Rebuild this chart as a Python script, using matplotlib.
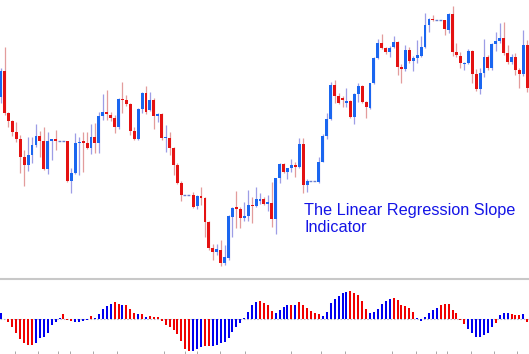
import matplotlib
matplotlib.use("Agg")
import matplotlib.pyplot as plt
import numpy as np

# ---------------- data ----------------
opens = [203.3, 229.3, 186.7, 179.0, 168.3, 160.7, 143.0, 135.0, 144.7, 155.0,
         164.0, 159.0, 131.3, 159.0, 161.0, 159.0, 159.0, 159.0, 119.3, 127.3,
         156.7, 159.0, 157.3, 151.7, 162.7, 157.3, 184.0, 188.3, 185.0, 181.7,
         173.3, 201.0, 200.0, 196.0, 169.3, 160.7, 190.7, 206.7, 190.0, 200.0,
         184.0, 186.0, 161.7, 161.7, 151.7, 135.0, 117.3, 104.7, 104.7, 104.7,
         94.0, 104.0, 102.3, 78.3, 51.7, 48.3, 50.0, 37.3, 41.7, 82.7,
         92.7, 91.0, 81.7, 84.3, 95.0, 94.0, 99.3, 101.0, 96.0, 97.3,
         80.7, 121.7, 135.7, 128.3, 131.7, 135.0, 132.7, 156.0, 115.0, 118.7,
         118.7, 118.3, 138.3, 164.0, 181.3, 215.0, 204.0, 202.0, 196.7, 199.3,
         183.3, 206.0, 214.0, 198.3, 191.7, 216.7, 241.7, 256.7, 252.3, 247.7,
         252.7, 258.0, 232.7, 231.0, 250.0, 239.0, 241.7, 244.0, 253.3, 275.0,
         281.3, 280.0, 280.0, 280.0, 270.0, 286.0, 247.7, 244.0, 236.0, 236.7,
         249.3, 226.0, 210.7, 227.3, 242.7, 231.7, 256.0, 259.3, 261.7, 246.7,
         238.3, 243.3, 230.0, 226.0, 255.0]
highs = [232.0, 253.3, 188.0, 180.0, 178.3, 165.0, 150.0, 162.7, 162.7, 176.0,
         169.3, 173.3, 168.3, 161.0, 170.0, 159.0, 159.0, 159.0, 132.0, 166.7,
         163.3, 168.3, 168.3, 176.0, 176.7, 188.3, 206.0, 210.0, 188.0, 185.0,
         201.7, 218.3, 205.0, 197.0, 173.3, 191.7, 208.3, 214.0, 208.3, 202.0,
         187.0, 187.3, 175.0, 168.3, 153.3, 136.7, 119.0, 104.7, 104.7, 108.3,
         105.0, 112.7, 103.5, 79.5, 56.0, 56.0, 60.0, 55.0, 85.0, 93.0,
         109.0, 93.0, 98.3, 110.0, 103.3, 113.3, 107.3, 103.3, 105.0, 118.3,
         122.5, 136.7, 136.7, 132.5, 140.7, 138.3, 161.7, 161.7, 120.7, 118.7,
         118.7, 142.7, 166.0, 187.3, 218.3, 220.0, 206.7, 204.0, 211.7, 200.0,
         207.0, 216.7, 215.0, 199.0, 217.5, 243.0, 260.7, 266.0, 253.0, 254.0,
         264.0, 259.0, 236.0, 255.0, 253.3, 244.0, 260.0, 264.0, 286.7, 282.0,
         285.0, 280.0, 280.0, 280.5, 287.3, 294.0, 256.7, 248.3, 238.3, 250.7,
         250.0, 230.7, 231.7, 260.7, 245.0, 257.3, 268.3, 277.3, 278.3, 255.0,
         246.0, 246.7, 231.7, 270.0, 260.0]
lows = [197.3, 185.0, 173.0, 164.0, 158.3, 126.7, 114.0, 129.3, 137.3, 153.3,
        143.3, 130.0, 126.0, 140.0, 150.0, 159.0, 159.0, 118.0, 106.7, 126.5,
        125.0, 128.3, 151.0, 146.0, 147.3, 147.3, 180.0, 180.0, 179.3, 167.3,
        170.7, 186.7, 194.0, 165.0, 160.0, 160.0, 187.3, 186.0, 189.0, 170.7,
        178.3, 160.0, 148.3, 145.0, 125.0, 116.5, 99.0, 104.7, 104.7, 92.0,
        91.0, 95.0, 63.3, 50.0, 40.0, 45.0, 34.0, 35.0, 40.0, 62.7,
        72.0, 72.0, 79.3, 79.3, 77.3, 93.5, 96.0, 95.0, 89.3, 73.3,
        66.0, 117.3, 127.0, 120.7, 128.3, 123.3, 132.0, 106.7, 108.3, 118.7,
        118.7, 117.3, 138.0, 160.7, 180.0, 197.3, 196.0, 193.3, 192.7, 182.5,
        176.0, 198.3, 197.5, 181.7, 191.0, 216.0, 241.0, 250.7, 246.0, 243.3,
        251.7, 225.0, 216.7, 229.0, 236.7, 229.3, 236.7, 243.0, 252.5, 268.3,
        279.5, 280.0, 280.0, 265.0, 267.3, 244.0, 243.0, 231.7, 230.0, 236.0,
        217.3, 209.3, 206.0, 223.3, 230.0, 230.0, 249.3, 257.3, 245.0, 236.0,
        236.0, 225.0, 211.7, 224.0, 208.3]
closes = [229.3, 186.7, 179.3, 168.3, 160.7, 143.3, 135.0, 144.7, 155.0, 164.0,
          159.0, 131.3, 159.0, 161.0, 159.0, 159.0, 159.0, 119.3, 127.3, 156.7,
          158.3, 157.3, 151.7, 162.7, 157.3, 184.0, 188.3, 185.7, 182.3, 173.3,
          200.7, 200.0, 196.0, 169.3, 160.7, 190.7, 206.7, 188.0, 200.5, 184.0,
          186.0, 161.7, 163.3, 151.7, 135.0, 117.3, 105.0, 104.7, 104.7, 93.3,
          104.0, 102.3, 78.3, 51.7, 48.3, 50.7, 37.3, 43.3, 84.0, 92.3,
          91.0, 81.7, 84.3, 95.0, 94.0, 100.7, 100.7, 96.0, 98.3, 80.7,
          121.7, 136.0, 128.3, 131.7, 135.0, 132.7, 156.0, 115.0, 119.3, 118.7,
          118.7, 138.3, 164.0, 181.3, 215.0, 204.0, 196.7, 200.5, 199.3, 183.3,
          206.0, 214.0, 198.3, 192.7, 216.7, 241.7, 256.7, 252.3, 247.7, 252.3,
          258.0, 232.7, 231.0, 250.0, 239.0, 241.7, 244.7, 253.3, 275.0, 281.3,
          280.0, 280.0, 280.0, 270.7, 286.0, 248.3, 245.0, 236.7, 237.0, 249.3,
          226.0, 210.7, 227.3, 242.7, 231.7, 256.0, 259.3, 261.7, 246.7, 238.3,
          243.3, 230.0, 226.0, 255.0, 211.7]

slope = [16, -1, -9, -24, -44, -61, -73, -79, -80, -74,
         -59, -56, -42, -19, -9, 3, 13, -4, -6, -11,
         -11, -6, -4, 7, 2, 14, 28, 38, 45, 49,
         45, 40, 40, 30, 18, 13, 14, 5, 8, 6,
         5, -6, -19, -24, -34, -46, -66, -92, -96, -96,
         -92, -86, -82, -82, -82, -78, -74, -69, -57, -39,
         -24, -14, 3, 20, 40, 51, 52, 48, 41, 22,
         16, 25, 34, 41, 42, 41, 49, 41, 33, 24,
         16, 14, 9, 20, 46, 58, 69, 76, 79, 83,
         76, 70, 54, 30, 18, 20, 28, 45, 54, 58,
         61, 56, 42, 38, 31, 19, 3, -6, 4, 17,
         26, 32, 41, 44, 44, 27, 18, -4, -17, -32,
         -44, -56, -56, -50, -42, -26, -12, 12, 18, 18,
         15, 12, 12, 14, -9]
slope_dir = ("brrrrrrrrbbbbbbbrrrbbbbrbbbbbrrbrrrbrbrr"
             "rrrrrrrrrbbbrrbbbbbbbbbbbbrrrrbbbbrbrrrr"
             "rrbbbbbbbrrrrrbbbbbbrrrrrrbbbbbbrrrrrrrb"
             "bbbbbbrbbbrrrbr")

session_ticks = [3.7, 9.6, 14.7, 17.7, 23.6, 29.7, 41.7, 46.9, 49.9, 55.8, 62.2,
                 73.8, 81.6, 87.6, 99.7, 105.8, 110.7, 113.7, 119.6, 125.5, 131.5]

title_text = "The Linear Regression Slope\nIndicator"

# ---------------- styling ----------------
W, H = 529, 354
fig = plt.figure(figsize=(W / 100, H / 100), dpi=100)
fig.patch.set_facecolor("white")

top_px, sep_px = 277, 279
ax = fig.add_axes([0, 1 - top_px / H, 1, top_px / H])
axh = fig.add_axes([0, 0, 1, (H - sep_px) / H])

n = len(opens)
x = np.arange(n)
xmin, xmax = -0.6 / 3.93, (W - 0.6) / 3.93

BODY_UP, BODY_DN = "#1a66f0", "#e41212"
WICK_UP, WICK_DN = "#9d9de6", "#e39c9c"

for i in range(n):
    o, h, l, c = opens[i], highs[i], lows[i], closes[i]
    if h == l:
        ax.hlines(o, i - 0.5, i + 0.5, color="#6a7fd0", lw=1.0,
                  linestyles=(0, (2, 1.2)))
        continue
    up = c >= o
    ax.vlines(i, l, h, color=WICK_UP if up else WICK_DN, lw=0.9, zorder=1)
    lo, hi = min(o, c), max(o, c)
    hgt = max(hi - lo, 1.2)
    ax.bar(i, hgt, bottom=lo, width=0.74, color=BODY_UP if up else BODY_DN,
           linewidth=0, zorder=2)

ax.set_xlim(xmin, xmax)
ax.set_ylim(300 - top_px, 300)
ax.axis("off")

ax.text(304 / W * (xmax - xmin) + xmin, 300 - 202.5, title_text,
        color="#1414e6", fontsize=11.7, family=["Liberation Sans", "DejaVu Sans"],
        va="top", ha="left", linespacing=1.2)

# histogram
cols = ["#0000f0" if d == "b" else "#f00000" for d in slope_dir]
axh.axhline(0, color="#b8b8c8", lw=0.8, ls=(0, (1.5, 1.5)), zorder=1)
axh.vlines(x, 0, slope, colors=cols, lw=1.45, zorder=2)
axh.set_xlim(xmin, xmax)
zero_px = 318.7
axh.set_ylim(-(H - zero_px) * 3, (zero_px - sep_px) * 3)
for s in ["left", "right", "bottom"]:
    axh.spines[s].set_visible(False)
axh.spines["top"].set_color("#c8c8c8")
axh.spines["top"].set_linewidth(1.5)
axh.set_yticks([])
axh.set_xticks(session_ticks)
axh.tick_params(axis="x", direction="in", length=2.2, width=0.7,
                color="#a8a8a8", labelbottom=False, pad=0)

fig.savefig("out.png", dpi=100, facecolor="white")
